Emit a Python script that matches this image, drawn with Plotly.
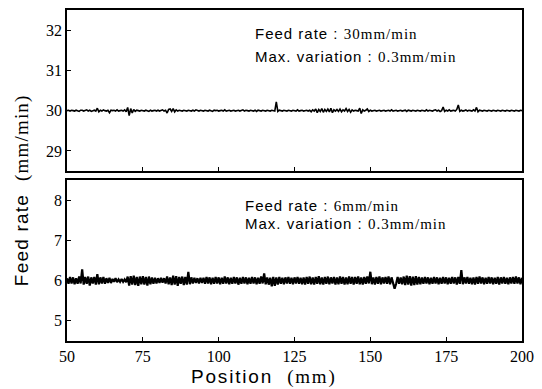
import plotly.graph_objects as go

# Position grid (mm): 50.0 .. 200.0 in 0.5 mm steps
position_mm = [50 + 0.5 * i for i in range(301)]

# Nominal feed rates (mm/min)
nominal_top = 30.0
nominal_bottom = 6.0

# Deviations, in 0.01 mm/min, one per position
dev_top = [
    0, 1, -1, 1, 0, -1, 1, 0, -2, 1,
    1, -1, 0, 2, -1, 1, -2, 0, 1, -1,
    6, -3, 1, -1, 2, 0, -1, 1, -5, 1,
    0, 1, -1, 2, -1, 0, 1, -1, 2, -3,
    8, -12, 5, -6, 3, -2, 1, 0, -1, 1,
    0, -1, 1, 0, -2, 1, -1, 0, 1, -1,
    1, -1, 0, 2, -1, 1, -6, 3, 4, -2,
    5, -3, 2, -1, 1, 0, -1, 1, 0, -1,
    1, 0, -1, 1, -1, 2, 0, -1, 1, 0,
    -1, 1, 0, -1, 1, 0, -2, 1, 0, 1,
    -1, 0, 1, -1, 2, -1, 0, 1, -1, 0,
    1, -1, 0, 1, -1, 0, 2, -1, 1, 0,
    -1, 1, 0, -1, 1, -2, 1, 0, -1, 1,
    0, -1, 1, 0, -1, 1, 0, -1, 22, -2,
    1, 0, -1, 1, 0, -1, 1, 0, -1, 1,
    0, -1, 2, -1, 0, 1, -1, 0, 1, -1,
    1, -3, 2, -1, 4, -5, 3, -2, 5, -4,
    3, -2, 4, -3, 6, -5, 2, -1, 3, -2,
    4, -3, 2, -1, 5, -2, 3, -4, 2, -1,
    1, 0, -1, 6, -7, 2, -1, 1, 4, -2,
    1, -1, 0, 1, -1, 0, 1, -1, 0, 1,
    -1, 0, 1, -1, 2, -1, 0, 1, -1, 0,
    1, -1, 0, 1, -2, 1, 0, -1, 1, 0,
    -1, 1, 0, -1, 1, 0, -1, 2, -1, 1,
    0, -1, 1, 2, -1, 1, -2, 0, 9, -2,
    1, -1, 2, -1, 0, 1, -1, 3, 14, -2,
    1, -1, 0, 2, -1, 1, 0, -1, 2, -1,
    8, -3, 1, 0, -1, 1, 0, -1, 1, 0,
    -1, 1, 0, -1, 1, 0, -1, 1, 0, -1,
    1, 0, -1, 1, 0, -1, 1, 0, -1, 1,
    0,
]

dev_bottom = [
    6, -8, 9, -7, 8, -9, 6, -8, 10, -7,
    28, -10, 9, -8, 10, -12, 8, -7, 9, -10,
    16, -9, 8, -7, 9, -8, 6, -6, 7, -6,
    4, -3, 6, -4, 3, -3, 4, -3, 3, -4,
    10, -12, 11, -10, 12, -11, 9, -13, 10, -9,
    11, -10, 9, -12, 10, -9, 8, -8, 7, -7,
    6, -6, 7, -5, 6, -7, 10, -9, 8, -11,
    12, -10, 11, -13, 9, -8, 10, -11, 9, -10,
    22, -9, 8, -7, 7, -6, 6, -7, 7, -6,
    7, -8, 9, -7, 8, -9, 7, -8, 9, -7,
    8, -9, 7, -8, 10, -7, 8, -9, 7, -8,
    9, -7, 8, -10, 7, -8, 9, -7, 8, -9,
    7, -8, 9, -7, 8, -9, 7, -8, 10, -7,
    18, -9, 8, -10, 7, -14, 9, -13, 8, -10,
    9, -8, 7, -9, 8, -7, 9, -8, 7, -9,
    8, -7, 9, -8, 7, -9, 8, -10, 9, -8,
    10, -9, 8, -10, 9, -8, 11, -9, 8, -10,
    9, -8, 10, -9, 8, -7, 9, -10, 8, -9,
    10, -8, 9, -10, 8, -9, 10, -8, 9, -10,
    9, -8, 10, -9, 8, -10, 9, -8, 10, -7,
    22, -9, 8, -10, 9, -8, 10, -9, 8, -7,
    9, -8, 10, -9, 8, -7, -20, -8, 9, -8,
    8, -9, 10, -11, 12, -10, 11, -12, 10, -11,
    11, -10, 9, -9, 8, -8, 9, -7, 8, -9,
    7, -8, 9, -7, 8, -9, 7, -8, 9, -7,
    8, -9, 7, -8, 9, -7, 8, -10, 9, -8,
    26, -9, 8, -7, 9, -8, 7, -9, 8, -10,
    9, -8, 10, -7, 8, -9, 7, -8, 9, -7,
    8, -9, 7, -8, 9, -10, 8, -7, 9, -8,
    7, -9, 8, -7, 9, -8, 10, -7, 8, -9,
    7,
]

x_ticks = [50, 75, 100, 125, 150, 175, 200]
y_ticks_top = [29, 30, 31, 32]
y_ticks_bottom = [5, 6, 7, 8]

feed_top = [nominal_top + d / 100 for d in dev_top]
feed_bottom = [nominal_bottom + d / 100 for d in dev_bottom]

SANS = "Liberation Sans"
SERIF = "Liberation Serif"

fig = go.Figure()
fig.add_trace(go.Scatter(x=position_mm, y=feed_top, mode="lines",
                         line=dict(color="black", width=1.6), xaxis="x", yaxis="y",
                         showlegend=False))
fig.add_trace(go.Scatter(x=position_mm, y=feed_bottom, mode="lines",
                         line=dict(color="black", width=2.2), xaxis="x2", yaxis="y2",
                         showlegend=False))

axis_common = dict(showline=True, linecolor="black", linewidth=1.5, mirror=True,
                   ticks="inside", ticklen=4, tickwidth=1, tickcolor="black",
                   showgrid=False, zeroline=False,
                   tickfont=dict(family=SERIF, size=16, color="black"))

fig.update_layout(
    width=542, height=389,
    margin=dict(l=67, r=19, t=8, b=48),
    paper_bgcolor="white", plot_bgcolor="white",
    xaxis=dict(domain=[0, 1], anchor="y", range=[50, 200], tickvals=x_ticks,
               showticklabels=False, **axis_common),
    yaxis=dict(domain=[0.5135, 1], anchor="x", range=[28.5, 32.5],
               tickvals=y_ticks_top, **axis_common),
    xaxis2=dict(domain=[0, 1], anchor="y2", range=[50, 200], tickvals=x_ticks,
                **axis_common),
    yaxis2=dict(domain=[0, 0.4865], anchor="x2", range=[4.5, 8.5],
                tickvals=y_ticks_bottom, **axis_common),
)

def mixed(sans_part, serif_part, spacing):
    return (f"<span style=\"font-family:{SANS};letter-spacing:{spacing}px\">{sans_part}</span>"
            f"<span style=\"font-family:{SERIF};letter-spacing:{spacing}px\">{serif_part}</span>")

ann = [
    dict(text=mixed("Feed rate : ", "30mm/min", 1.0), x=0.408, y=0.928),
    dict(text=mixed("Max. variation : ", "0.3mm/min", 1.0), x=0.408, y=0.859),
    dict(text=mixed("Feed rate : ", "6mm/min", 1.0), x=0.386, y=0.408),
    dict(text=mixed("Max. variation : ", "0.3mm/min", 1.0), x=0.386, y=0.354),
]
for a in ann:
    fig.add_annotation(xref="paper", yref="paper", xanchor="left", yanchor="middle",
                       showarrow=False, font=dict(family=SANS, size=15, color="black"), **a)

fig.add_annotation(xref="paper", yref="paper", x=0.434, y=-0.108,
                   xanchor="center", yanchor="middle", showarrow=False,
                   text=mixed("Position  ", "(mm)", 1.8),
                   font=dict(family=SANS, size=19, color="black"))
fig.add_annotation(xref="paper", yref="paper", x=-0.0987, y=0.456,
                   xanchor="center", yanchor="middle", showarrow=False, textangle=-90,
                   text=mixed("Feed rate  ", "(mm/min)", 1.2),
                   font=dict(family=SANS, size=19, color="black"))

fig.write_html("out.html", config={"displayModeBar": False},
               post_script="document.body.style.margin='0';")
